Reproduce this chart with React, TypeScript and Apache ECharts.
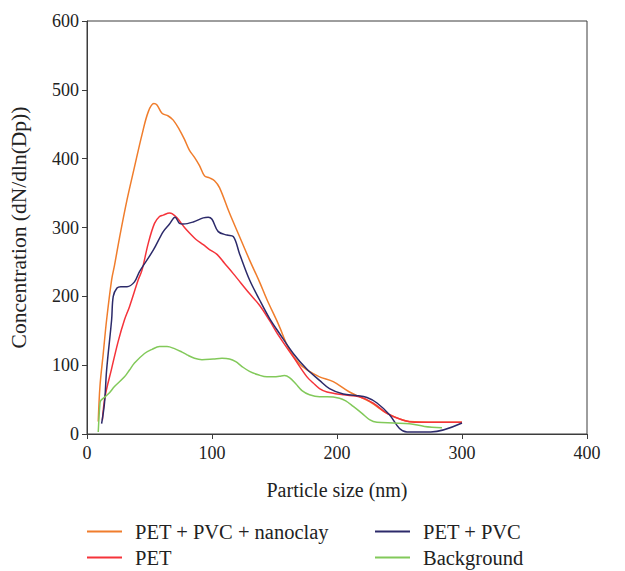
import React, { useEffect, useRef } from "react";
import * as echarts from "echarts";

// Particle size (nm) and concentration (dN/dln(Dp))
const nanoclaySize = [9, 10.4, 13, 15.7, 19.7, 22, 26, 32, 38, 44, 49, 53.5, 56, 60, 65, 69, 74, 78, 82, 86, 90, 94, 98, 102, 106, 114, 122, 130, 138, 144, 153, 162, 170, 176, 186, 197, 210, 226, 240, 250, 258, 280, 300];
const nanoclayConc = [18, 70, 117, 166, 224, 245, 285, 340, 388, 435, 468, 480, 478, 466, 462, 456, 442, 428, 412, 402, 390, 375, 372, 368, 358, 321, 287, 253, 221, 195, 160, 122, 102, 93, 83, 76, 61, 47, 30, 22, 18, 17, 17];

const petSize = [12.3, 14.4, 19.7, 25, 30, 34, 41, 44, 49, 54, 58, 61, 66, 68, 72, 78, 82, 87, 93, 98, 104, 110, 117, 130, 138, 146, 154, 165, 176, 181, 186, 192, 205, 218, 229, 240, 253, 262, 300];
const petConc = [20, 54, 95, 135, 166, 185, 224, 238, 277, 306, 316, 318, 321, 320, 314, 300, 292, 283, 275, 268, 261, 248, 233, 204, 187, 165, 141, 112, 83, 74, 66, 61, 57, 54, 45, 30, 20, 17, 17];

const pvcSize = [11.7, 14, 15.7, 19.7, 21, 24, 27, 32, 38, 42, 53, 61, 66, 70.4, 74, 77, 85, 93, 97, 100, 105, 112, 117, 122, 130, 138, 146, 154, 165, 176, 186, 194, 205, 215, 224, 232, 242, 250, 256, 275, 300];
const pvcConc = [15, 45, 93, 166, 200, 212, 214, 214, 221, 236, 267, 294, 305, 315, 306, 305, 308, 314, 315, 312, 294, 289, 287, 262, 224, 195, 168, 146, 117, 94, 78, 66, 58, 56, 53, 45, 28, 8, 3, 3, 16];

const bgSize = [9, 10.4, 11.2, 14.4, 18, 22, 30, 34, 38, 46, 52, 58, 64, 70, 76, 80, 86, 92, 101, 108, 114, 119, 124, 130, 137, 144, 150, 154, 158, 162, 167, 172, 178, 186, 192, 202, 207, 213, 220, 226, 232, 245, 258, 270, 284];
const bgConc = [3, 45, 49, 54, 60, 69, 83, 93, 103, 117, 123, 127, 127, 124, 119, 115, 110, 108, 109, 110, 109, 105, 98, 91, 86, 83, 83, 84, 85, 82, 73, 63, 57, 54, 54, 52, 48, 40, 30, 21, 17, 16, 15, 11, 9];

const seriesNames = ["PET + PVC + nanoclay", "PET", "PET + PVC", "Background"];
const seriesColors = ["#f07d2c", "#f5333a", "#2c2a6a", "#82c95a"];

const xTicks = { min: 0, max: 400, interval: 100 };
const yTicks = { min: 0, max: 600, interval: 100 };

const FONT = "Liberation Serif";
const AXIS_COLOR = "#3c3c3c";

function pairs(xs: number[], ys: number[]) {
  return xs.map((x, i) => [x, ys[i]]);
}

function legendAt(left: number, names: string[]) {
  return {
    data: names.map((n) => ({ name: n, icon: "rect" })),
    orient: "vertical",
    left,
    top: 521,
    height: 50,
    padding: 0,
    itemWidth: 35,
    itemHeight: 2,
    itemGap: 5,
    textStyle: { fontFamily: FONT, fontSize: 20.5, lineHeight: 20, color: "#222", padding: [0, 0, 0, 8] },
  };
}

export default function App() {
  const ref = useRef<HTMLDivElement>(null);
  useEffect(() => {
    document.body.style.margin = "0";
    if (!ref.current) return;
    const chart = echarts.init(ref.current, null, { renderer: "svg" });
    const datasets = [
      pairs(nanoclaySize, nanoclayConc),
      pairs(petSize, petConc),
      pairs(pvcSize, pvcConc),
      pairs(bgSize, bgConc),
    ];
    chart.setOption({
      animation: false,
      backgroundColor: "#ffffff",
      textStyle: { fontFamily: FONT },
      grid: {
        left: 87,
        right: 38,
        top: 21,
        bottom: 137,
        show: true,
        borderColor: AXIS_COLOR,
        borderWidth: 1,
        backgroundColor: "transparent",
      },
      legend: [legendAt(87, [seriesNames[0], seriesNames[1]]), legendAt(375, [seriesNames[2], seriesNames[3]])],
      xAxis: {
        type: "value",
        min: xTicks.min,
        max: xTicks.max,
        interval: xTicks.interval,
        name: "Particle size (nm)",
        nameLocation: "middle",
        nameGap: 46,
        nameTextStyle: { fontFamily: FONT, fontSize: 20, color: "#222" },
        axisLine: { show: true, lineStyle: { color: AXIS_COLOR, width: 1 } },
        axisTick: { show: true, inside: false, length: 5, lineStyle: { color: AXIS_COLOR } },
        axisLabel: { fontFamily: FONT, fontSize: 18, color: "#222", margin: 10 },
        splitLine: { show: false },
      },
      yAxis: {
        type: "value",
        min: yTicks.min,
        max: yTicks.max,
        interval: yTicks.interval,
        name: "Concentration (dN/dln(Dp))",
        nameLocation: "middle",
        nameGap: 57,
        nameTextStyle: { fontFamily: FONT, fontSize: 21.5, color: "#222" },
        axisLine: { show: true, lineStyle: { color: AXIS_COLOR, width: 1 } },
        axisTick: { show: true, inside: false, length: 5, lineStyle: { color: AXIS_COLOR } },
        axisLabel: { fontFamily: FONT, fontSize: 18, color: "#222", margin: 8 },
        splitLine: { show: false },
      },
      series: seriesNames.map((name, i) => ({
        name,
        type: "line",
        data: datasets[i],
        smooth: 0.35,
        symbol: "none",
        lineStyle: { color: seriesColors[i], width: 1.5 },
        itemStyle: { color: seriesColors[i] },
      })),
    });
    return () => chart.dispose();
  }, []);
  return <div ref={ref} style={{ width: 625, height: 571 }} />;
}
